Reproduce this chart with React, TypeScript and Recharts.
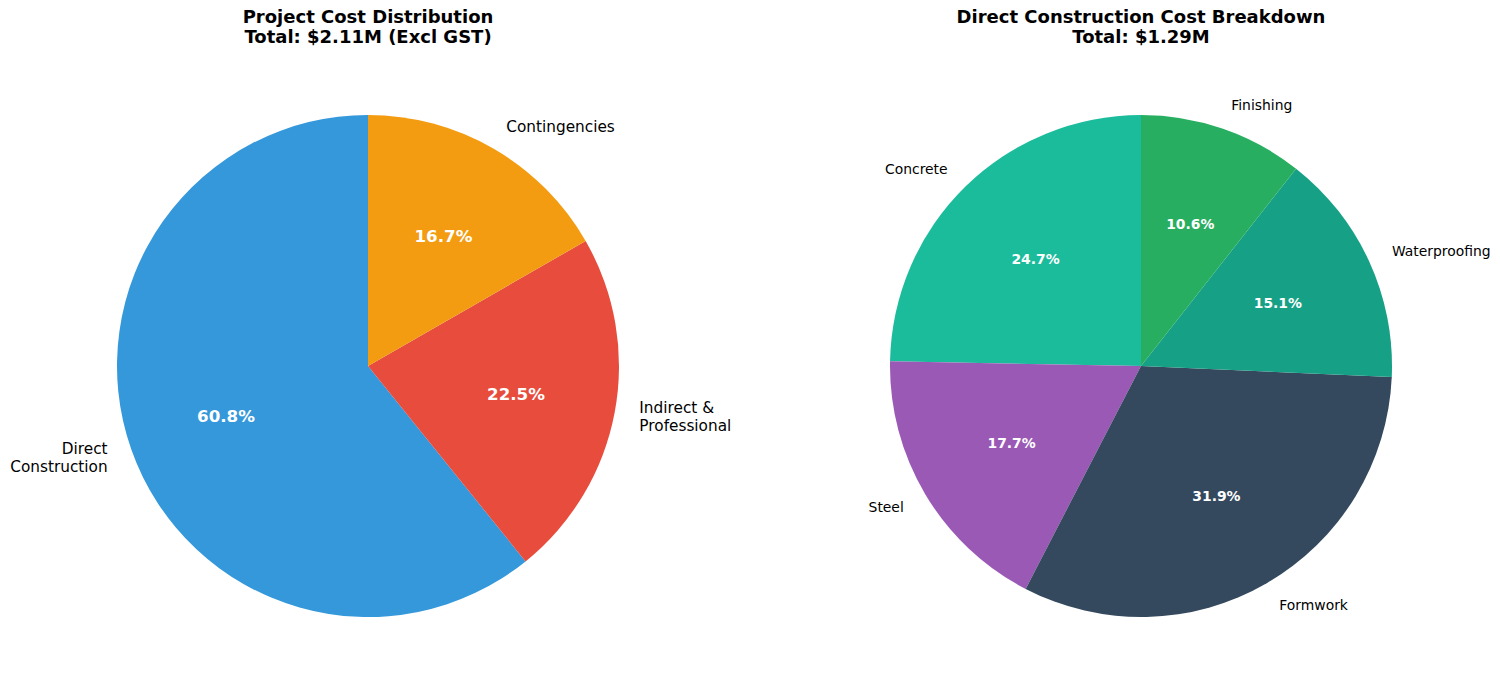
import React from "react";
import { PieChart, Pie, Cell } from "recharts";

const projectNames = ["Direct\nConstruction", "Indirect &\nProfessional", "Contingencies"];
const projectShares = [60.8, 22.5, 16.7];
const projectColors = ["#3498db", "#e74c3c", "#f39c12"];

const directNames = ["Concrete", "Steel", "Formwork", "Waterproofing", "Finishing"];
const directShares = [24.7, 17.7, 31.9, 15.1, 10.6];
const directColors = ["#1abc9c", "#9b59b6", "#34495e", "#16a085", "#27ae60"];

const projectData = projectNames.map((name, i) => ({ name, value: projectShares[i] }));
const directData = directNames.map((name, i) => ({ name, value: directShares[i] }));

const RADIAN = Math.PI / 180;
const FONT = "'DejaVu Sans', sans-serif";

function makeLabel(nameSize: number, pctSize: number) {
  return (props: any) => {
    const { cx, cy, midAngle, outerRadius, percent, name } = props;
    const cos = Math.cos(-midAngle * RADIAN);
    const sin = Math.sin(-midAngle * RADIAN);
    const lx = cx + outerRadius * 1.1 * cos;
    const ly = cy + outerRadius * 1.1 * sin;
    const px = cx + outerRadius * 0.6 * cos;
    const py = cy + outerRadius * 0.6 * sin;
    const lines = String(name).split("\n");
    const lh = nameSize * 1.2;
    const y0 = ly - ((lines.length - 1) * lh) / 2;
    return (
      <g>
        <text
          x={lx}
          y={y0}
          textAnchor={cos >= 0 ? "start" : "end"}
          dominantBaseline="central"
          fontFamily={FONT}
          fontSize={nameSize}
          fill="#000"
        >
          {lines.map((l, i) => (
            <tspan key={i} x={lx} y={y0 + i * lh}>
              {l}
            </tspan>
          ))}
        </text>
        <text
          x={px}
          y={py}
          textAnchor="middle"
          dominantBaseline="central"
          fontFamily={FONT}
          fontSize={pctSize}
          fontWeight="bold"
          fill="#fff"
        >
          {(percent * 100).toFixed(1)}%
        </text>
      </g>
    );
  };
}

const titleStyle: React.CSSProperties = {
  position: "absolute",
  top: 7,
  width: 500,
  textAlign: "center",
  fontFamily: FONT,
  fontWeight: "bold",
  fontSize: 18,
  lineHeight: "20px",
  color: "#000",
};

export default function App() {
  return (
    <div style={{ position: "absolute", left: 0, top: 0, width: 1500, height: 689, background: "#fff" }}>
      <div style={{ ...titleStyle, left: 368 - 250 }}>
        Project Cost Distribution
        <br />
        Total: $2.11M (Excl GST)
      </div>
      <div style={{ ...titleStyle, left: 1141 - 250 }}>
        Direct Construction Cost Breakdown
        <br />
        Total: $1.29M
      </div>
      <PieChart
        width={1500}
        height={689}
        margin={{ top: 0, right: 0, bottom: 0, left: 0 }}
        style={{ position: "absolute", left: 0, top: 0 }}
      >
        <Pie
          data={projectData}
          dataKey="value"
          nameKey="name"
          cx={368}
          cy={366}
          outerRadius={251}
          startAngle={90}
          endAngle={450}
          stroke="none"
          labelLine={false}
          label={makeLabel(15.3, 16.7)}
          isAnimationActive={false}
        >
          {projectData.map((d, i) => (
            <Cell key={d.name} fill={projectColors[i]} />
          ))}
        </Pie>
        <Pie
          data={directData}
          dataKey="value"
          nameKey="name"
          cx={1141}
          cy={366}
          outerRadius={251}
          startAngle={90}
          endAngle={450}
          stroke="none"
          labelLine={false}
          label={makeLabel(13.9, 13.9)}
          isAnimationActive={false}
        >
          {directData.map((d, i) => (
            <Cell key={d.name} fill={directColors[i]} />
          ))}
        </Pie>
      </PieChart>
    </div>
  );
}
